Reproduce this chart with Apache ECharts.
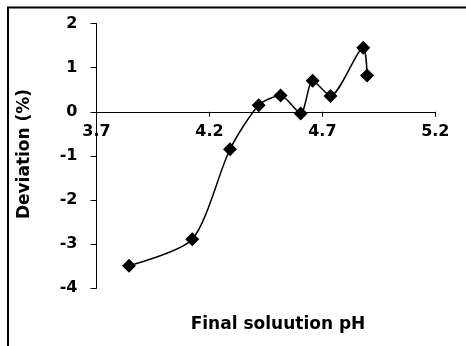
<!DOCTYPE html>
<html>
<head>
<meta charset="utf-8">
<style>
  html, body { margin: 0; padding: 0; background: #fff; }
  #chart { width: 466px; height: 346px; }
</style>
<script src="https://cdn.jsdelivr.net/npm/echarts@6/dist/echarts.min.js"></script>
</head>
<body>
<div id="chart"></div>
<script>
// Data
const phValues = [3.844, 4.124, 4.291, 4.418, 4.515, 4.604, 4.657, 4.736, 4.881, 4.898];
const deviationValues = [-3.49, -2.89, -0.85, 0.15, 0.37, -0.04, 0.70, 0.36, 1.45, 0.82];
const xTickLabels = ['3.7', '4.2', '4.7', '5.2'];
const yTickLabels = ['-4', '-3', '-2', '-1', '0', '1', '2'];
const xTitle = 'Final soluution pH';
const yTitle = 'Deviation (%)';

const points = phValues.map((x, i) => [x, deviationValues[i]]);
const xMin = parseFloat(xTickLabels[0]);
const xMax = parseFloat(xTickLabels[xTickLabels.length - 1]);
const xStep = parseFloat(xTickLabels[1]) - xMin;
const yMin = parseFloat(yTickLabels[0]);
const yMax = parseFloat(yTickLabels[yTickLabels.length - 1]);

const gridTop = 23.5, gridBottom = 57.7;
const plotH = 346 - gridTop - gridBottom;
// shift the x axis (line, ticks, labels) up to the y = 0 level
const zeroOffset = -plotH * (0 - yMin) / (yMax - yMin);

const chart = echarts.init(document.getElementById('chart'), null, { renderer: 'canvas' });
const tickFont = { fontFamily: 'DejaVu Sans', fontWeight: 'bold', fontSize: 16, color: '#000' };

chart.setOption({
  animation: false,
  backgroundColor: '#fff',
  grid: { left: 96.5, right: 30.7, top: gridTop, bottom: gridBottom, containLabel: false },
  xAxis: {
    type: 'value',
    position: 'bottom',
    offset: zeroOffset,
    min: xMin,
    max: xMax,
    interval: xStep,
    axisLine: { show: true, onZero: false, lineStyle: { color: '#000', width: 1 } },
    axisTick: { show: true, inside: false, length: 5, lineStyle: { color: '#000' } },
    splitLine: { show: false },
    axisLabel: Object.assign({ margin: 12, formatter: v => v.toFixed(1) }, tickFont)
  },
  yAxis: {
    type: 'value',
    min: yMin,
    max: yMax,
    interval: 1,
    axisLine: { show: true, onZero: false, lineStyle: { color: '#000', width: 1 } },
    axisTick: { show: true, inside: false, length: 6, lineStyle: { color: '#000' } },
    splitLine: { show: false },
    axisLabel: Object.assign({ margin: 19, formatter: v => String(Math.round(v)) }, tickFont)
  },
  graphic: [
    {
      type: 'rect', silent: true,
      shape: { x: 8, y: 7.5, width: 480, height: 360 },
      style: { fill: 'none', stroke: '#000', lineWidth: 2 }
    },
    {
      type: 'text', silent: true,
      x: 278, y: 325,
      style: {
        text: xTitle, fill: '#000', align: 'center', verticalAlign: 'middle',
        font: 'bold 17px "DejaVu Sans"'
      }
    },
    {
      type: 'text', silent: true,
      x: 25, y: 154, rotation: Math.PI / 2,
      style: {
        text: yTitle, fill: '#000', align: 'center', verticalAlign: 'middle',
        font: 'bold 17px "DejaVu Sans"'
      }
    }
  ],
  series: [{
    type: 'line',
    data: points,
    smooth: 0.25,
    symbol: 'diamond',
    symbolSize: 14,
    showSymbol: true,
    lineStyle: { color: '#000', width: 1.5 },
    itemStyle: { color: '#000' }
  }]
});
</script>
</body>
</html>
